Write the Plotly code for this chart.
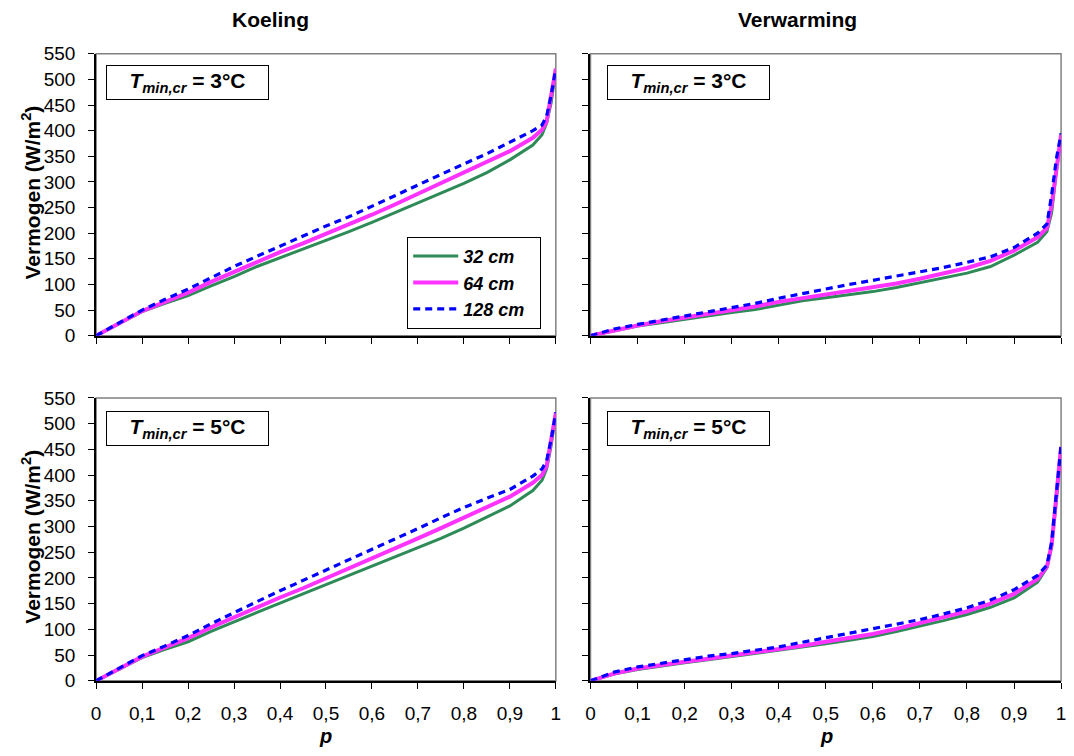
import plotly.graph_objects as go

# ---------------- data ----------------
p = [0, 0.05, 0.1, 0.15, 0.2, 0.25, 0.3, 0.35, 0.4, 0.45, 0.5, 0.55, 0.6, 0.65,
     0.7, 0.75, 0.8, 0.85, 0.9, 0.95, 0.97, 0.98, 0.99, 1.0]

series_names = ["32 cm", "64 cm", "128 cm"]

# Koeling, Tmin,cr = 3 C
kl3_32 = [0, 24, 47, 63, 78, 97, 115, 135, 152, 168, 186, 203, 221, 240, 259, 278, 297, 318, 343, 372, 392, 415, 455, 520]
kl3_64 = [0, 24, 48, 66, 84, 105, 125, 144, 163, 180, 198, 217, 236, 256, 277, 297, 317, 338, 360, 386, 402, 418, 465, 521]
kl3_128 = [0, 25, 50, 71, 91, 113, 135, 155, 175, 195, 214, 232, 252, 273, 294, 315, 335, 355, 377, 400, 411, 428, 470, 521]

# Verwarming, Tmin,cr = 3 C
vw3_32 = [0, 10, 19, 25, 32, 38, 45, 51, 60, 68, 74, 80, 86, 94, 103, 112, 122, 135, 157, 182, 203, 240, 320, 385]
vw3_64 = [0, 11, 20, 28, 35, 43, 49, 57, 66, 73, 80, 87, 94, 102, 111, 121, 132, 146, 166, 192, 210, 255, 330, 392]
vw3_128 = [0, 13, 22, 30, 38, 46, 54, 63, 73, 82, 92, 100, 108, 116, 124, 133, 143, 154, 172, 200, 218, 275, 345, 395]

# Koeling, Tmin,cr = 5 C
kl5_32 = [0, 23, 45, 61, 76, 96, 115, 133, 151, 169, 187, 204, 222, 240, 258, 277, 297, 318, 340, 370, 390, 412, 458, 520]
kl5_64 = [0, 24, 47, 65, 83, 104, 124, 143, 162, 180, 199, 218, 237, 257, 277, 297, 318, 338, 358, 385, 400, 418, 465, 521]
kl5_128 = [0, 25, 49, 68, 88, 111, 133, 154, 175, 195, 215, 235, 255, 276, 296, 317, 337, 355, 372, 398, 412, 428, 470, 522]

# Verwarming, Tmin,cr = 5 C
vw5_32 = [0, 13, 22, 29, 35, 41, 47, 53, 59, 65, 72, 79, 86, 96, 106, 117, 129, 143, 161, 192, 220, 260, 350, 450]
vw5_64 = [0, 14, 24, 31, 37, 43, 49, 55, 61, 68, 76, 84, 91, 101, 112, 123, 135, 150, 169, 198, 222, 265, 355, 455]
vw5_128 = [0, 17, 27, 34, 41, 48, 53, 59, 66, 75, 84, 93, 101, 110, 119, 130, 142, 157, 177, 205, 225, 270, 360, 458]

x_tickvals = [0, 0.1, 0.2, 0.3, 0.4, 0.5, 0.6, 0.7, 0.8, 0.9, 1]
x_ticktext = ["0", "0,1", "0,2", "0,3", "0,4", "0,5", "0,6", "0,7", "0,8", "0,9", "1"]
y_tickvals = [0, 50, 100, 150, 200, 250, 300, 350, 400, 450, 500, 550]

col_titles = ["Koeling", "Verwarming"]
box_labels = ["3°C", "5°C"]
y_title = "Vermogen (W/m<sup>2</sup>)"

# ---------------- styling ----------------
W, H = 1074, 756
FONT = "Liberation Sans, Arial, sans-serif"
colors = ["#2E8B57", "#FF33FF", "#0000FF"]
widths = [3, 4, 3.2]
dashes = ["solid", "solid", "7px,5px"]
TICKSIZE = 19

def px_x(x):
    return x / W

def px_y(y):
    return 1 - y / H

xdom_left = [px_x(92), px_x(556)]
xdom_right = [px_x(591), px_x(1066)]
ydom_top = [px_y(335), px_y(45)]
ydom_bot = [px_y(690), px_y(399)]

panels = [
    (1, xdom_left, ydom_top, [kl3_32, kl3_64, kl3_128]),
    (2, xdom_right, ydom_top, [vw3_32, vw3_64, vw3_128]),
    (3, xdom_left, ydom_bot, [kl5_32, kl5_64, kl5_128]),
    (4, xdom_right, ydom_bot, [vw5_32, vw5_64, vw5_128]),
]

fig = go.Figure()
layout = dict(
    width=W, height=H,
    margin=dict(l=0, r=0, t=0, b=0),
    paper_bgcolor="white", plot_bgcolor="white",
    font=dict(family=FONT, color="black", size=18),
    showlegend=True,
    legend=dict(
        x=px_x(406), y=px_y(328), xanchor="left", yanchor="bottom",
        bgcolor="white", bordercolor="black", borderwidth=1,
        font=dict(family=FONT, size=18, color="black"),
        itemwidth=45, tracegroupgap=0,
    ),
)
shapes = []
annotations = []

for idx, xd, yd, ys in panels:
    sfx = "" if idx == 1 else str(idx)
    for k in range(3):
        fig.add_trace(go.Scatter(
            x=p, y=ys[k], mode="lines",
            name="<b><i>%s</i></b>  " % series_names[k],
            line=dict(color=colors[k], width=widths[k], dash=dashes[k]),
            xaxis="x" + sfx, yaxis="y" + sfx,
            showlegend=(idx == 1), legendrank=k + 1,
        ))
    is_left = idx in (1, 3)
    layout["xaxis" + sfx] = dict(
        domain=xd, anchor="y" + sfx, range=[0, 1],
        tickvals=x_tickvals, ticktext=x_ticktext,
        showticklabels=idx in (3, 4),
        ticks="outside", ticklen=6, tickwidth=1.2, tickcolor="black",
        ticklabelstandoff=8,
        showline=True, linecolor="black", linewidth=2,
        showgrid=False, zeroline=False,
        tickfont=dict(family=FONT, size=TICKSIZE, color="black"),
    )
    layout["yaxis" + sfx] = dict(
        domain=yd, anchor="x" + sfx, range=[0, 550],
        tickvals=y_tickvals,
        showticklabels=is_left,
        ticks="outside", ticklen=6, tickwidth=1.2, tickcolor="black",
        ticklabelstandoff=9,
        showline=True, linecolor="black", linewidth=2,
        showgrid=False, zeroline=False,
        tickfont=dict(family=FONT, size=TICKSIZE, color="black"),
    )
    shapes.append(dict(
        type="rect", xref="x%s domain" % sfx, yref="y%s domain" % sfx,
        x0=0, x1=1, y0=0, y1=1, line=dict(color="#808080", width=1.5),
        layer="below",
    ))
    # T_min,cr box
    bx = 102 if is_left else 608
    by = 57 if idx in (1, 2) else 412
    lab = box_labels[0] if idx in (1, 2) else box_labels[1]
    annotations.append(dict(
        xref="paper", yref="paper", x=px_x(bx), y=px_y(by),
        xanchor="left", yanchor="top", showarrow=False,
        text="<b><i>T</i></b><sub><b><i>min,cr</i></b></sub><b> = %s</b>" % lab,
        font=dict(family=FONT, size=21, color="black"),
        width=157, height=29, borderpad=2,
        bordercolor="black", borderwidth=1, bgcolor="white",
        align="center", valign="middle",
    ))

# column titles
annotations.append(dict(xref="paper", yref="paper", x=px_x(268), y=px_y(10),
                        xanchor="center", yanchor="middle",
                        text="<b>%s</b>" % col_titles[0], showarrow=False,
                        font=dict(family=FONT, size=21, color="black")))
annotations.append(dict(xref="paper", yref="paper", x=px_x(800), y=px_y(10),
                        xanchor="center", yanchor="middle",
                        text="<b>%s</b>" % col_titles[1], showarrow=False,
                        font=dict(family=FONT, size=21, color="black")))
# y titles
for yc in (188, 542):
    annotations.append(dict(xref="paper", yref="paper", x=px_x(26), y=px_y(yc),
                            xanchor="center", yanchor="middle",
                            text="<b>%s</b>" % y_title, textangle=-90, showarrow=False,
                            font=dict(family=FONT, size=21, color="black")))
# x titles
for xc in (324, 829):
    annotations.append(dict(xref="paper", yref="paper", x=px_x(xc), y=px_y(747),
                            xanchor="center", yanchor="middle",
                            text="<b><i>p</i></b>", showarrow=False,
                            font=dict(family=FONT, size=20, color="black")))

layout["shapes"] = shapes
layout["annotations"] = annotations
fig.update_layout(**layout)
fig.write_html("out.html")
